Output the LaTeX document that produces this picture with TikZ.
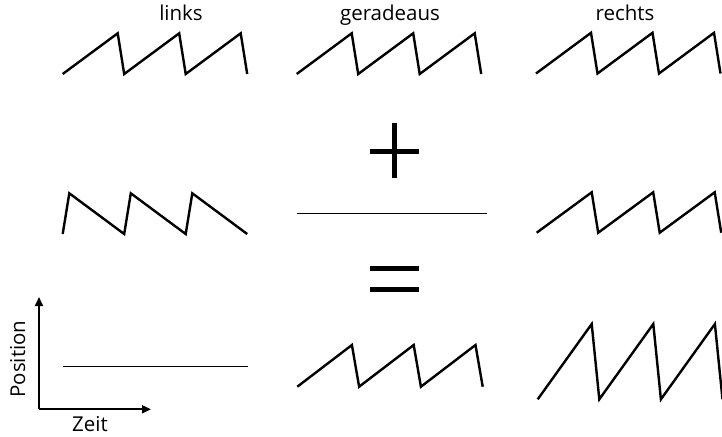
\documentclass[tikz,border=0pt]{standalone}
\usepackage{fontspec}
\setmainfont{Open Sans}
\usetikzlibrary{arrows.meta}
\tikzset{
  wave/.style={line width=2.4pt, line join=miter, line cap=butt},
  flatline/.style={line width=1.2pt},
  sign/.style={line width=5pt},
  axisarrow/.style={-{Triangle[length=9pt,width=8pt]}, line width=1.8pt},
  caption/.style={anchor=base, inner sep=0pt, font=\fontsize{20.5}{22}\selectfont}
}

\begin{document}
\begin{tikzpicture}[x=1pt,y=-1pt]
\useasboundingbox (0,0) rectangle (722,436);
% column titles
\node[caption] (links) at (181,21) {links};
\node[caption] (gerade) at (390,21) {geradeaus};
\node[caption] (rechts) at (625,21) {rechts};
% top row: three rising sawtooth waves
\draw[wave] (62.7,74) \foreach \k in {1,2,3} { -- ++(55,-40.7) -- ++(6.5,40.7) };
\draw[wave] (296.7,74) \foreach \k in {1,2,3} { -- ++(55,-40.7) -- ++(6.5,40.7) };
\draw[wave] (536,73.5) \foreach \k in {1,2,3} { -- ++(55,-40.7) -- ++(6.5,40.7) };
% plus sign
\draw[sign] (394.4,123.3) -- (394.4,178.3);
\draw[sign] (370,151) -- (419,151);
% middle row
\draw[wave] (62.7,234) \foreach \k in {1,2,3} { -- ++(6.6,-40.7) -- ++(54.9,40.7) };
\draw[flatline] (296.7,213.3) -- (486.7,213.3);
\draw[wave] (536.7,232.7) \foreach \k in {1,2,3} { -- ++(55,-40.4) -- ++(6.5,40.4) };
% equals sign
\draw[sign] (370,268.3) -- (419,268.3);
\draw[sign] (370,289.3) -- (419,289.3);
% bottom row
\coordinate (orig) at (39,409.3);
\coordinate (ytip) at (39,297);
\coordinate (xtip) at (151,409.3);
\draw[axisarrow] (orig) -- (ytip);
\draw[axisarrow] (orig) -- (xtip);
\node[caption, rotate=90] (pos) at (25,359) {Position};
\node[caption] (zeit) at (90,431.7) {Zeit};
\draw[flatline] (63.3,366.7) -- (248.3,366.7);
\draw[wave] (297.3,386.7) \foreach \k in {1,2,3} { -- ++(54.6,-41.7) -- ++(7.2,41.7) };
\draw[wave] (537.7,399.3) \foreach \k in {1,2,3} { -- ++(54,-75.3) -- ++(7.6,75.3) };
\end{tikzpicture}
\end{document}
